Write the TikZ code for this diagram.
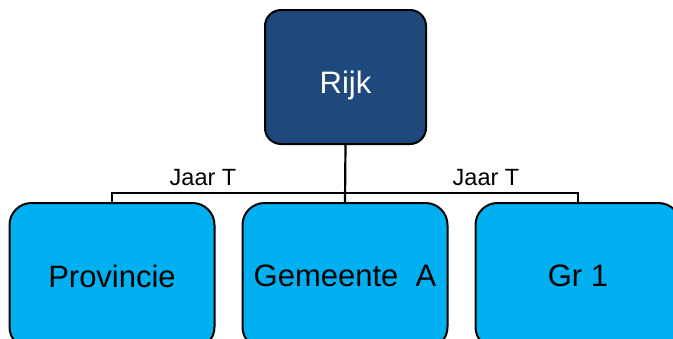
\documentclass[tikz,border=0pt]{standalone}
\usepackage{fontspec}
\setmainfont{Liberation Sans}
\usetikzlibrary{positioning}
\definecolor{rijkblue}{HTML}{1F497D}
\definecolor{lightblue}{HTML}{00B0F0}

\begin{document}
\begin{tikzpicture}[x=1pt,y=-1pt,
    box/.style={draw=black, line width=2pt, rounded corners=22pt, fill=lightblue,
        minimum width=205pt, minimum height=146pt, font=\fontsize{31}{37}\selectfont, text=black},
    topbox/.style={box, fill=rijkblue, text=white, rounded corners=16pt,
        minimum width=161pt, minimum height=134pt, text height=32pt, text depth=0pt},
    link/.style={line width=2.2pt},
    yearlabel/.style={font=\fontsize{23.5}{28}\selectfont, inner sep=0pt}]
    \useasboundingbox (0,0) rectangle (673,338);

    % Top level
    \node[topbox] (rijk) at (345.5,77) {Rijk};

    % Second level
    \node[box] (gem) at (345,276) {Gemeente\ \ A};
    \node[box, left=26pt of gem] (prov) {Provincie};
    \node[box, right=26pt of gem] (gr) {Gr 1};

    % Connectors
    \coordinate (bar) at (345,193);
    \draw[link] (rijk.south) -- (gem.north);
    \draw[link] (prov.north) |- (bar) -| (gr.north);

    % Labels
    \node[yearlabel] (jaarL) at (203,178) {Jaar T};
    \node[yearlabel] (jaarR) at (486,178) {Jaar T};
\end{tikzpicture}
\end{document}
